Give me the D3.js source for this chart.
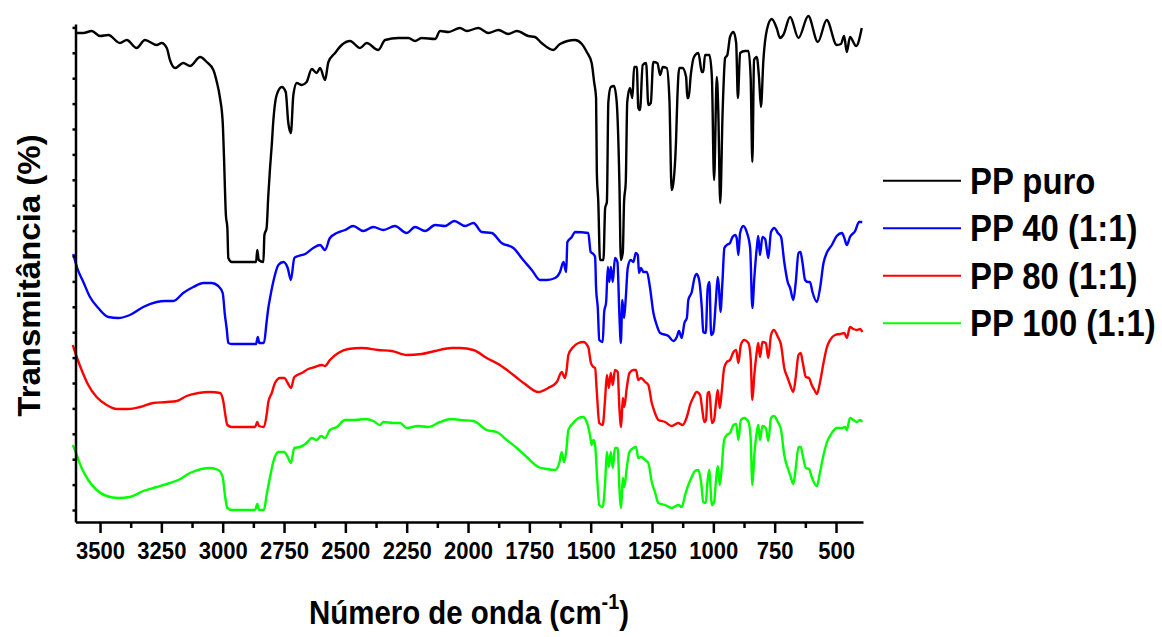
<!DOCTYPE html>
<html lang="pt">
<head>
    <meta charset="utf-8">
    <title>FTIR - PP</title>
    <script type="text/javascript" src="https://d3js.org/d3.v7.min.js"></script>
    <style>
        body { margin: 0; background: #fff; font-family: "Liberation Sans", Arial, Helvetica, sans-serif; }
    </style>
</head>
<body>
    <div class="chart"></div>

    <script type="text/javascript">
        // DATA ------------------------------------
        // [wavenumber (cm-1), transmittance (a.u., stacked)]
        const ppPuro = [[3602,489],[3568,489],[3534,491],[3500,486],[3466,487],[3419,479],[3391,482],[3351,474],[3317,482],[3269,477],[3249,479],[3228,474],[3215,462],[3194,454],[3161,459],[3133,456],[3092,465],[3065,460],[3038,452],[3024,440],[3011,424],[3000,400],[2995,367],[2987,307],[2981,294],[2977,264],[2963,260],[2864,260],[2859,272],[2853,262],[2834,260],[2830,287],[2821,294],[2814,327],[2807,354],[2800,377],[2794,400],[2780,427],[2759,435],[2743,430],[2733,400],[2722,389],[2712,427],[2698,439],[2678,437],[2658,440],[2637,453],[2617,449],[2603,454],[2583,442],[2569,460],[2542,469],[2515,477],[2481,481],[2440,474],[2413,479],[2366,472],[2338,482],[2284,484],[2243,484],[2216,481],[2189,484],[2134,483],[2114,491],[2080,490],[2033,494],[2005,491],[1958,494],[1917,489],[1876,492],[1836,488],[1801,491],[1754,486],[1727,485],[1700,479],[1652,472],[1625,478],[1564,482],[1536,478],[1516,470],[1496,459],[1486,440],[1478,424],[1475,350],[1469,320],[1462,262],[1448,262],[1441,314],[1434,320],[1428,420],[1418,435],[1405,436],[1394,420],[1383,340],[1377,262],[1369,270],[1364,320],[1357,340],[1351,420],[1340,434],[1330,424],[1323,455],[1312,455],[1306,414],[1299,412],[1288,457],[1274,459],[1265,417],[1255,419],[1245,460],[1228,459],[1217,447],[1206,455],[1190,454],[1179,422],[1170,332],[1163,339],[1152,382],[1147,422],[1139,454],[1126,454],[1111,445],[1106,424],[1101,424],[1092,447],[1079,465],[1061,469],[1047,450],[1041,450],[1034,467],[1016,467],[1006,445],[997,342],[986,445],[980,412],[972,319],[962,412],[952,464],[943,467],[932,485],[918,490],[907,479],[900,424],[891,469],[871,471],[857,471],[848,445],[841,360],[834,462],[823,465],[814,445],[806,415],[796,462],[782,492],[762,503],[742,494],[728,484],[715,487],[687,505],[653,484],[613,506],[574,480],[538,502],[497,477],[480,478],[467,486],[456,470],[443,485],[418,476],[395,494]];

        const pp40 = [[3609,268],[3593,254],[3568,240],[3541,225],[3507,214],[3466,205],[3426,204],[3378,207],[3324,215],[3269,220],[3235,221],[3201,221],[3161,229],[3120,235],[3079,239],[3045,239],[3018,236],[3000,229],[2991,207],[2984,194],[2977,179],[2963,178],[2864,178],[2857,185],[2851,179],[2832,179],[2821,200],[2814,214],[2807,224],[2794,240],[2773,257],[2753,260],[2735,254],[2722,242],[2708,264],[2692,266],[2664,268],[2631,274],[2603,277],[2583,272],[2563,284],[2535,289],[2501,292],[2468,296],[2427,291],[2386,295],[2345,292],[2298,296],[2250,289],[2216,295],[2175,291],[2134,297],[2094,296],[2056,301],[2012,296],[1978,299],[1944,290],[1903,289],[1863,279],[1815,274],[1775,262],[1740,252],[1706,242],[1679,242],[1645,244],[1625,250],[1611,260],[1600,250],[1595,280],[1577,285],[1564,290],[1510,289],[1500,270],[1489,268],[1482,265],[1478,234],[1471,214],[1465,182],[1451,180],[1445,210],[1437,220],[1430,255],[1424,240],[1418,255],[1410,240],[1401,264],[1391,260],[1383,207],[1377,179],[1371,222],[1364,204],[1357,224],[1349,254],[1337,262],[1326,260],[1316,269],[1308,267],[1303,249],[1295,254],[1285,250],[1271,250],[1258,234],[1245,210],[1231,197],[1217,189],[1183,186],[1163,181],[1149,185],[1140,191],[1129,184],[1118,199],[1108,204],[1102,222],[1088,230],[1077,244],[1068,248],[1058,242],[1047,214],[1041,190],[1031,189],[1023,234],[1016,240],[1009,187],[1000,190],[990,220],[982,245],[977,234],[971,210],[963,240],[955,274],[945,277],[932,279],[922,285],[911,287],[905,284],[898,267],[891,289],[878,296],[864,290],[850,274],[841,214],[833,244],[823,274],[817,286],[810,267],[800,285],[789,283],[776,264],[765,290],[751,294],[737,289],[724,285],[711,260],[697,240],[687,234],[674,222],[664,240],[653,269],[645,270],[637,260],[626,242],[615,240],[606,240],[596,230],[578,220],[565,234],[551,259],[538,269],[517,277],[497,286],[476,289],[466,284],[456,277],[443,285],[422,291],[406,300],[393,300]];

        const pp80 = [[3611,177],[3595,165],[3575,152],[3548,137],[3514,125],[3473,117],[3432,113],[3385,113],[3337,115],[3283,119],[3228,120],[3187,121],[3147,126],[3099,129],[3052,130],[3011,129],[2997,120],[2991,110],[2981,97],[2963,95],[2868,95],[2859,100],[2852,96],[2832,95],[2821,107],[2814,120],[2800,129],[2787,139],[2766,144],[2749,144],[2735,139],[2722,134],[2708,145],[2678,149],[2651,153],[2624,155],[2596,157],[2583,156],[2563,162],[2529,169],[2488,173],[2433,174],[2366,172],[2311,171],[2250,167],[2189,168],[2134,171],[2066,174],[2033,174],[1978,172],[1924,164],[1870,157],[1815,147],[1768,138],[1713,130],[1673,134],[1638,140],[1618,150],[1605,144],[1598,152],[1591,167],[1571,175],[1550,179],[1530,180],[1510,175],[1499,159],[1489,155],[1482,154],[1475,130],[1465,99],[1451,97],[1441,124],[1434,147],[1426,134],[1418,149],[1410,137],[1401,152],[1390,150],[1383,114],[1376,95],[1369,124],[1363,115],[1353,134],[1342,149],[1326,152],[1315,152],[1306,142],[1295,144],[1278,140],[1265,137],[1251,119],[1238,109],[1224,102],[1197,100],[1170,96],[1143,99],[1126,97],[1108,105],[1095,117],[1081,125],[1068,130],[1054,127],[1045,112],[1037,100],[1030,102],[1023,129],[1016,130],[1006,99],[997,102],[989,120],[982,132],[974,114],[966,130],[956,154],[945,160],[932,162],[918,170],[907,172],[898,159],[888,177],[874,182],[857,179],[848,164],[841,122],[833,147],[823,170],[817,179],[810,165],[800,180],[786,179],[776,164],[765,187],[753,192],[737,185],[724,177],[711,154],[697,144],[687,137],[674,130],[664,145],[653,167],[644,169],[636,160],[623,145],[610,144],[599,137],[588,132],[578,128],[565,140],[551,159],[538,174],[524,182],[504,187],[483,188],[466,189],[456,184],[443,195],[429,193],[415,192],[402,193],[393,190]];

        const pp100 = [[3611,77],[3595,67],[3575,54],[3548,42],[3514,32],[3473,26],[3426,24],[3378,25],[3324,31],[3269,35],[3215,39],[3181,42],[3133,49],[3086,53],[3052,54],[3018,52],[3000,45],[2991,27],[2981,14],[2963,12],[2868,12],[2859,18],[2852,12],[2832,12],[2821,27],[2807,45],[2794,60],[2773,70],[2749,70],[2735,65],[2722,59],[2708,74],[2685,75],[2658,79],[2637,84],[2617,82],[2599,86],[2583,84],[2563,92],[2535,95],[2501,102],[2461,102],[2420,103],[2386,101],[2359,97],[2345,100],[2304,99],[2277,99],[2250,94],[2203,96],[2162,95],[2114,100],[2066,103],[2033,102],[1978,101],[1924,92],[1883,90],[1842,82],[1801,74],[1761,65],[1713,55],[1679,53],[1645,52],[1628,59],[1618,70],[1609,60],[1600,70],[1591,92],[1571,99],[1550,104],[1532,105],[1516,100],[1503,87],[1496,77],[1489,82],[1482,77],[1475,50],[1465,17],[1451,15],[1441,40],[1434,70],[1426,55],[1418,70],[1410,54],[1401,74],[1390,74],[1383,34],[1376,14],[1369,44],[1363,35],[1353,54],[1342,70],[1326,74],[1315,75],[1306,64],[1295,65],[1278,62],[1265,59],[1251,40],[1238,30],[1224,19],[1197,17],[1170,14],[1143,17],[1129,15],[1115,27],[1102,37],[1088,45],[1075,51],[1061,52],[1050,40],[1041,20],[1031,19],[1024,40],[1017,52],[1006,17],[997,20],[989,42],[982,56],[974,37],[966,54],[956,82],[945,87],[932,89],[918,97],[907,98],[898,82],[888,102],[874,104],[857,100],[848,84],[841,37],[833,67],[823,90],[817,97],[810,82],[800,96],[786,94],[776,81],[765,104],[753,106],[737,100],[724,92],[711,67],[697,54],[687,47],[674,38],[664,54],[653,75],[644,75],[636,67],[623,54],[610,53],[599,45],[578,36],[565,50],[551,67],[538,79],[517,89],[497,94],[476,94],[463,95],[456,92],[443,104],[429,102],[415,100],[402,102],[393,100]];

        const seriesNames = ["PP puro", "PP 40 (1:1)", "PP 80 (1:1)", "PP 100 (1:1)"];
        const seriesColors = ["#000000", "#0000ff", "#ff0000", "#00ff00"];
        const seriesData = [ppPuro, pp40, pp80, pp100];

        const majorTicks = [3500, 3250, 3000, 2750, 2500, 2250, 2000, 1750, 1500, 1250, 1000, 750, 500];
        const minorTicks = [3375, 3125, 2875, 2625, 2375, 2125, 1875, 1625, 1375, 1125, 875, 625];

        // CHART INIT ------------------------------
        const width = 1162, height = 637;
        const svg = d3.select(".chart")
            .append("svg")
            .attr("width", width)
            .attr("height", height);

        const xScale = d3.scaleLinear()
            .domain([3600, 390])
            .range([75.5, 863]);

        const yScale = d3.scaleLinear()
            .domain([0, 498])
            .range([522, 24]);

        // spectra
        const line = d3.line()
            .x(d => xScale(d[0]))
            .y(d => yScale(d[1]))
            .curve(d3.curveMonotoneX);

        svg.selectAll(".spectrum")
            .data(seriesData)
            .enter()
            .append("path")
            .attr("class", "spectrum")
            .attr("fill", "none")
            .attr("stroke", (d, i) => seriesColors[i])
            .attr("stroke-width", 2.4)
            .attr("stroke-linejoin", "round")
            .attr("d", line);

        // axes
        const yAxis = d3.axisLeft(yScale)
            .tickValues(d3.range(12, 498, 25.4))
            .tickSize(3)
            .tickSizeOuter(0)
            .tickFormat("");

        svg.append("g")
            .attr("class", "axis y-axis")
            .attr("transform", "translate(75.5,0)")
            .call(yAxis)
            .call(g => g.selectAll("path, line").attr("stroke", "#000").attr("stroke-width", 2.5));

        const xMinor = d3.axisBottom(xScale)
            .tickValues(minorTicks)
            .tickSize(6)
            .tickSizeOuter(0)
            .tickFormat("");

        svg.append("g")
            .attr("class", "axis x-minor")
            .attr("transform", "translate(0,522)")
            .call(xMinor)
            .call(g => g.select(".domain").remove())
            .call(g => g.selectAll("line").attr("stroke", "#000").attr("stroke-width", 2.5));

        const xAxis = d3.axisBottom(xScale)
            .tickValues(majorTicks)
            .tickFormat(d3.format("d"))
            .tickSize(11)
            .tickSizeOuter(0);

        svg.append("g")
            .attr("class", "axis x-axis")
            .attr("transform", "translate(0,522)")
            .call(xAxis)
            .call(g => g.selectAll("path, line").attr("stroke", "#000").attr("stroke-width", 2.5))
            .call(g => g.selectAll("text")
                .attr("y", 37)
                .attr("dy", null)
                .attr("transform", "scale(0.9,1)")
                .attr("fill", "#000")
                .attr("font-family", "'Liberation Sans', Arial, sans-serif")
                .attr("font-weight", "bold")
                .attr("font-size", "24.5px"));

        // axis titles
        const xTitle = svg.append("text")
            .attr("transform", "translate(469,624) scale(0.9,1)")
            .attr("text-anchor", "middle")
            .attr("font-weight", "bold")
            .attr("font-size", "32.7px")
            .attr("fill", "#000");
        xTitle.append("tspan").text("Número de onda (cm");
        xTitle.append("tspan").attr("dy", -15).attr("font-size", "22px").text("-1");
        xTitle.append("tspan").attr("dy", 15).text(")");

        svg.append("text")
            .attr("transform", "translate(39.5,275.5) rotate(-90) scale(1,0.95)")
            .attr("text-anchor", "middle")
            .attr("font-weight", "bold")
            .attr("font-size", "33px")
            .attr("fill", "#000")
            .text("Transmitância (%)");

        // legend
        const legend = svg.selectAll(".legend")
            .data(seriesNames)
            .enter()
            .append("g")
            .attr("class", "legend")
            .attr("transform", (d, i) => `translate(883,${180.7 + i * 47.5})`);

        legend.append("line")
            .attr("x1", 0)
            .attr("x2", 78)
            .attr("stroke", (d, i) => seriesColors[i])
            .attr("stroke-width", 2);

        legend.append("text")
            .attr("transform", "translate(87,13) scale(0.9,1)")
            .attr("font-weight", "bold")
            .attr("font-size", "36.5px")
            .attr("fill", "#000")
            .text(d => d);
    </script>
</body>
</html>
